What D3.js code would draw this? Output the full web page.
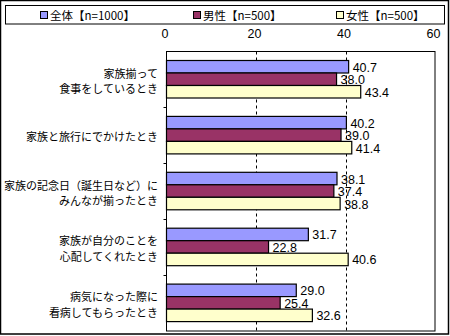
<!DOCTYPE html>
<html><head><meta charset="utf-8">
<script src="https://cdn.jsdelivr.net/npm/d3@7"></script>
<style>body{margin:0;background:#fff}svg{display:block}text{fill:#000}</style>
</head><body><svg id="c" width="450" height="336"></svg>
<script>
const categories = [
  ["家族揃って","食事をしているとき"],
  ["家族と旅行にでかけたとき"],
  ["家族の記念日（誕生日など）に","みんなが揃ったとき"],
  ["家族が自分のことを","心配してくれたとき"],
  ["病気になった際に","看病してもらったとき"]
];
const seriesNames = ["全体【n=1000】","男性【n=500】","女性【n=500】"];
const seriesColors = ["#9999FF","#993366","#FFFFCC"];
const valuesAll   = [40.7, 40.2, 38.1, 31.7, 29.0];
const valuesMale  = [38.0, 39.0, 37.4, 22.8, 25.4];
const valuesFemale= [43.4, 41.4, 38.8, 40.6, 32.6];
const xTicks = [0, 20, 40, 60];

const series = [valuesAll, valuesMale, valuesFemale];
const svg = d3.select("#c");
const jp = "'Noto Sans CJK JP','Noto Sans',sans-serif";
const num = "'Liberation Sans Narrow','Liberation Sans',Arial,sans-serif";

// outer frame
svg.append("rect").attr("x",0.5).attr("y",0.5).attr("width",448).attr("height",333.5)
  .attr("fill","#fff").attr("stroke","#000").attr("stroke-width",1.5);

// legend
svg.append("rect").attr("x",5.5).attr("y",5.5).attr("width",439).attr("height",18.5)
  .attr("fill","#fff").attr("stroke","#000");
const legX = [40, 193, 336];
seriesNames.forEach((n,i)=>{
  svg.append("rect").attr("x",legX[i]+0.5).attr("y",11.5).attr("width",7).attr("height",7)
    .attr("fill",seriesColors[i]).attr("stroke","#000");
  svg.append("text").attr("x",legX[i]+10).attr("y",19.5).attr("font-family",jp)
    .attr("font-size",11.5).text(n);
});

const x = d3.scaleLinear().domain([0,60]).range([166.5,435]);
const y0 = d3.scaleBand().domain(d3.range(categories.length)).range([51.5,331]);
const y1 = d3.scaleBand().domain(d3.range(series.length)).range([9,46.5]);

const plot = svg.append("g");
plot.append("rect").attr("x",x(0)).attr("y",51.5).attr("width",x(60)-x(0)).attr("height",331-51.5)
  .attr("fill","#fff").attr("stroke","#000");

// gridlines
plot.selectAll("line.grid").data(xTicks.filter(t=>t>0&&t<60)).enter().append("line")
  .attr("x1",d=>Math.round(x(d))+0.5).attr("x2",d=>Math.round(x(d))+0.5)
  .attr("y1",51.5).attr("y2",331).attr("stroke","#000").attr("stroke-dasharray","3,3");

// top axis labels
const ax = d3.axisTop(x).tickValues(xTicks).tickSize(0).tickPadding(0).tickFormat(d3.format("d"));
const axg = svg.append("g").attr("transform","translate(-2,38)").call(ax);
axg.select(".domain").remove();
axg.selectAll("text").attr("font-family",num).attr("font-size",12.5).attr("fill","#000").attr("dy",0);

// left category ticks
const bounds = d3.range(1,categories.length).map(i=>y0(i));
plot.selectAll("line.ct").data(bounds).enter().append("line")
  .attr("x1",x(0)-3).attr("x2",x(0)).attr("y1",d=>Math.round(d)+0.5).attr("y2",d=>Math.round(d)+0.5)
  .attr("stroke","#000");

// bars
categories.forEach((c,ci)=>{
  const g = plot.append("g").attr("transform",`translate(0,${y0(ci)})`);
  series.forEach((s,si)=>{
    g.append("rect").attr("x",x(0)).attr("y",y1(si)).attr("width",x(s[ci])-x(0))
      .attr("height",y1.bandwidth()).attr("fill",seriesColors[si]).attr("stroke","#000").attr("stroke-width",1.2);
    g.append("text").attr("x",x(s[ci])+4).attr("y",y1(si)+y1.bandwidth()/2+1)
      .attr("dominant-baseline","central").attr("font-family",num).attr("font-size",12.5)
      .text(s[ci].toFixed(1));
  });
  const cy = y0(ci)+y0.bandwidth()/2+1;
  const t = svg.append("text").attr("text-anchor","end").attr("font-family",jp).attr("font-size",11);
  c.forEach((line,li)=>{
    t.append("tspan").attr("x",158).attr("y",cy+(li-(c.length-1)/2)*15.5)
      .attr("dominant-baseline","central").text(line);
  });
});
</script></body></html>
